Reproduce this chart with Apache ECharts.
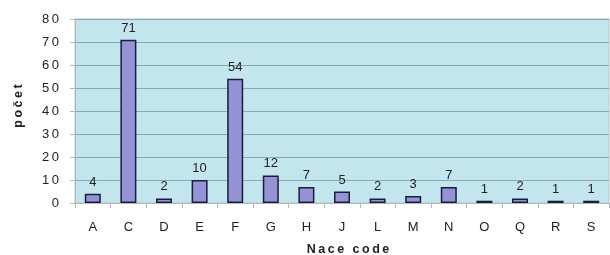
<!DOCTYPE html>
<html>
<head>
<meta charset="utf-8">
<script src="https://cdn.jsdelivr.net/npm/echarts@6/dist/echarts.min.js"></script>
<style>
  html, body { margin: 0; padding: 0; background: #fff; }
  #chart { width: 610px; height: 255px; }
</style>
</head>
<body>
<div id="chart"></div>
<script>
// nace codes and counts
let categories = ['A', 'C', 'D', 'E', 'F', 'G', 'H', 'J', 'L', 'M', 'N', 'O', 'Q', 'R', 'S']
let counts = [4, 71, 2, 10, 54, 12, 7, 5, 2, 3, 7, 1, 2, 1, 1]

let myChart = echarts.init(document.getElementById('chart'))
let font = 'Liberation Sans, Arial, sans-serif'
// the original text is widely spaced, fake it with thin spaces
function spaced(s) {
  return String(s).split('').join('\u2009')
}
let options = {
  backgroundColor: '#fff',
  animation: false,
  grid: {
    left: 75,
    right: 1,
    top: 19,
    bottom: 52,
    outerBoundsMode: 'none',
    show: true,
    backgroundColor: '#c3e6ee',
    borderColor: '#b8c4c8',
    borderWidth: 1
  },
  xAxis: {
    type: 'category',
    data: categories,
    name: spaced('Nace code'),
    nameLocation: 'middle',
    nameGap: 40,
    nameTextStyle: { fontFamily: font, fontSize: 12.5, fontWeight: 'bold', color: '#222', padding: [0, 0, 0, 12] },
    axisLine: { lineStyle: { color: '#b0b8bb' } },
    axisTick: { show: true, length: 5, lineStyle: { color: '#b0b8bb' } },
    axisLabel: { fontFamily: font, fontSize: 13, color: '#222', margin: 18 }
  },
  yAxis: {
    type: 'value',
    min: 0,
    max: 80,
    interval: 10,
    name: spaced('počet'),
    nameLocation: 'middle',
    nameGap: 50,
    nameTextStyle: { fontFamily: font, fontSize: 12.5, fontWeight: 'bold', color: '#222', padding: [0, 0, 0, 10] },
    axisLine: { show: true, lineStyle: { color: '#b0b8bb' } },
    axisTick: { show: true, length: 5, lineStyle: { color: '#b0b8bb' } },
    axisLabel: { fontFamily: font, fontSize: 13, color: '#222', margin: 16, formatter: function (v) { return spaced(v) } },
    splitLine: { lineStyle: { color: '#86a9b2', width: 1 } }
  },
  series: [{
    type: 'bar',
    data: counts,
    barWidth: 16,
    itemStyle: {
      color: '#9393d6',
      borderColor: '#1c1c3c',
      borderWidth: 1.5
    },
    label: {
      show: true,
      position: 'top',
      distance: 5,
      fontFamily: font,
      fontSize: 13,
      color: '#222'
    }
  }]
}
myChart.setOption(options)
</script>
</body>
</html>
